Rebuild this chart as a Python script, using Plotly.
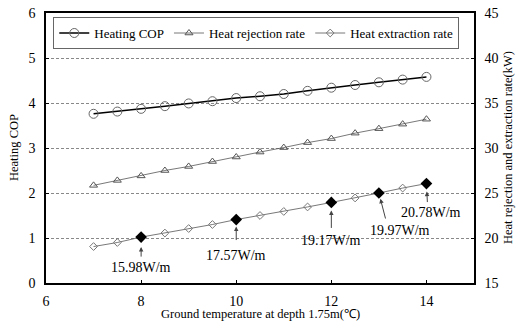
import plotly.graph_objects as go

temps = [7, 7.5, 8, 8.5, 9, 9.5, 10, 10.5, 11, 11.5, 12, 12.5, 13, 13.5, 14]
heating_cop = [3.76, 3.81, 3.87, 3.93, 3.99, 4.04, 4.11, 4.15, 4.20, 4.27, 4.34, 4.40, 4.46, 4.52, 4.58]
heat_rejection = [25.85, 26.4, 26.9, 27.5, 27.95, 28.5, 29.0, 29.55, 30.05, 30.6, 31.05, 31.65, 32.15, 32.65, 33.2]
heat_extraction = [19.05, 19.5, 20.1, 20.55, 21.05, 21.5, 22.05, 22.5, 22.95, 23.45, 23.95, 24.45, 25.0, 25.55, 26.05]
highlight_idx = [2, 6, 10, 12, 14]
highlight_labels = ["15.98W/m", "17.57W/m", "19.17W/m", "19.97W/m", "20.78W/m"]

FONT = "Liberation Serif"

fig = go.Figure()
fig.add_trace(go.Scatter(
    x=temps, y=heating_cop, name="Heating COP", mode="lines+markers",
    line=dict(color="black", width=1.5),
    marker=dict(symbol="circle-open", size=9, color="#666", line=dict(width=1)),
))
fig.add_trace(go.Scatter(
    x=temps, y=heat_rejection, name="Heat rejection rate", mode="lines+markers", yaxis="y2",
    line=dict(color="#555", width=0.8),
    marker=dict(symbol="triangle-up-open", size=7, color="#555", line=dict(width=1)),
))
fig.add_trace(go.Scatter(
    x=temps, y=heat_extraction, name="Heat extraction rate", mode="lines+markers", yaxis="y2",
    line=dict(color="#555", width=0.8),
    marker=dict(symbol="diamond-open", size=6, color="#777", line=dict(width=1)),
))
hx = [temps[i] for i in highlight_idx]
hy = [heat_extraction[i] for i in highlight_idx]
fig.add_trace(go.Scatter(
    x=hx, y=hy, mode="markers", yaxis="y2", showlegend=False,
    marker=dict(symbol="diamond", size=9, color="black"),
))

# arrow tail offsets (px), standoffs, text offsets
arrow_ax = [0, 0, 0, 7, 1]
arrow_ay = [21, 22, 27, 27, 20]
standoffs = [10, 7, 8, 6, 8]
text_dx = [0, 0, 0, 21, 5]
text_dy = [30, 36, 38, 37, 29]
for xv, yv, lab, ax, ay, so, tdx, tdy in zip(hx, hy, highlight_labels, arrow_ax, arrow_ay, standoffs, text_dx, text_dy):
    fig.add_annotation(x=xv, y=yv, xref="x", yref="y2", text="", showarrow=True,
                       ax=ax, ay=ay, standoff=so, arrowhead=2, arrowsize=0.9,
                       arrowwidth=1, arrowcolor="#444")
    fig.add_annotation(x=xv, y=yv, xref="x", yref="y2", text=lab, showarrow=False,
                       xshift=tdx, yshift=-tdy, font=dict(family=FONT, size=14, color="black"))

# axis titles as annotations (pixel-placed relative to plot area)
fig.add_annotation(x=1.0, y=0.5, xref="paper", yref="paper", text="Heat rejection and extraction rate(kW)",
                   textangle=-90, showarrow=False, xanchor="center", yanchor="middle", xshift=34,
                   font=dict(family=FONT, size=12.5, color="black"))
fig.add_annotation(x=0.0, y=0.5, xref="paper", yref="paper", text="Heating COP",
                   textangle=-90, showarrow=False, xanchor="center", yanchor="middle", xshift=-32,
                   font=dict(family=FONT, size=12.5, color="black"))
fig.add_annotation(x=0.5, y=0.0, xref="paper", yref="paper", text="Ground temperature at depth 1.75m(℃)",
                   showarrow=False, xanchor="center", yanchor="middle", yshift=-31,
                   font=dict(family=FONT, size=12.5, color="black"))

axis_common = dict(showline=True, linecolor="black", linewidth=1.5, ticks="inside",
                   ticklen=3, tickcolor="black", tickfont=dict(family=FONT, size=14, color="black"),
                   zeroline=False, automargin=False)
fig.update_layout(
    width=519, height=321,
    margin=dict(l=46, r=45, t=13, b=38, autoexpand=False),
    paper_bgcolor="white", plot_bgcolor="white",
    font=dict(family=FONT, color="black"),
    xaxis=dict(range=[6, 15], tickvals=[6, 8, 10, 12, 14], mirror=True, showgrid=False,
               ticklabelstandoff=4, **axis_common),
    yaxis=dict(range=[0, 6], tickvals=[0, 1, 2, 3, 4, 5, 6], showgrid=True, gridcolor="#888",
               griddash="3px,2px", gridwidth=0.7, ticklabelstandoff=6,
               **axis_common),
    yaxis2=dict(range=[15, 45], tickvals=[15, 20, 25, 30, 35, 40, 45], overlaying="y", side="right",
                showgrid=False, ticklabelstandoff=6,
                **axis_common),
    legend=dict(orientation="h", x=0.017, y=0.985, xanchor="left", yanchor="top",
                bordercolor="#666", borderwidth=1, bgcolor="white",
                font=dict(family=FONT, size=13, color="black"), tracegroupgap=0),
    showlegend=True,
)
fig.write_html("out.html", config={"displayModeBar": False},
               post_script="document.body.style.margin='0';")
